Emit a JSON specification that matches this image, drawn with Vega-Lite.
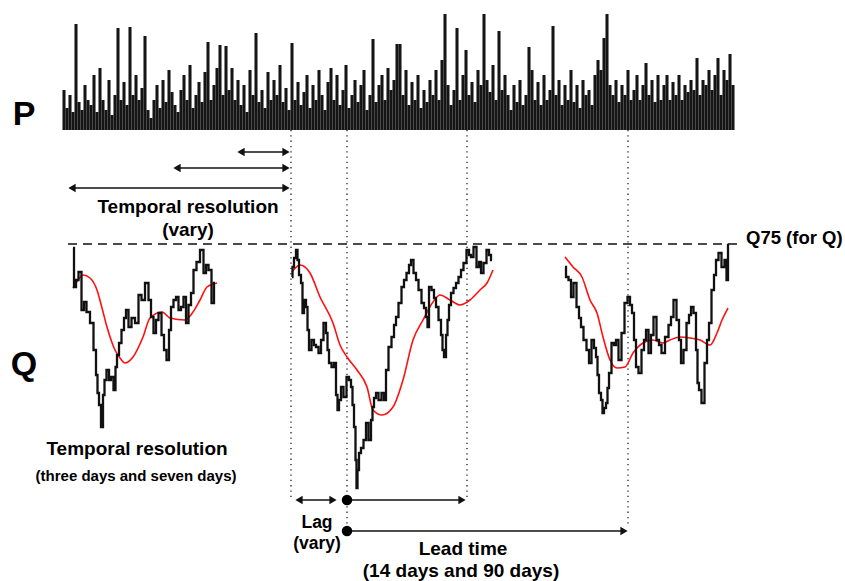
{
  "$schema": "https://vega.github.io/schema/vega-lite/v6.json",
  "width": 845,
  "height": 581,
  "autosize": {"type": "fit", "contains": "padding"},
  "padding": 0,
  "background": "white",
  "config": {"view": {"stroke": null}, "text": {"font": "Liberation Sans", "fontWeight": "bold", "color": "black"}},
  "resolve": {"scale": {"x": "independent", "y": "independent", "shape": "independent"}},
  "datasets": {
    "precip": [
      {"t":0,"p":40},{"t":1,"p":22},{"t":2,"p":35},{"t":3,"p":18},{"t":4,"p":106},{"t":5,"p":28},{"t":6,"p":20},{"t":7,"p":45},{"t":8,"p":30},{"t":9,"p":25},
      {"t":10,"p":55},{"t":11,"p":18},{"t":12,"p":62},{"t":13,"p":30},{"t":14,"p":20},{"t":15,"p":50},{"t":16,"p":15},{"t":17,"p":35},{"t":18,"p":102},{"t":19,"p":30},
      {"t":20,"p":48},{"t":21,"p":25},{"t":22,"p":103},{"t":23,"p":35},{"t":24,"p":55},{"t":25,"p":30},{"t":26,"p":42},{"t":27,"p":94},{"t":28,"p":20},{"t":29,"p":12},
      {"t":30,"p":30},{"t":31,"p":45},{"t":32,"p":22},{"t":33,"p":50},{"t":34,"p":28},{"t":35,"p":60},{"t":36,"p":38},{"t":37,"p":25},{"t":38,"p":18},{"t":39,"p":40},
      {"t":40,"p":55},{"t":41,"p":30},{"t":42,"p":65},{"t":43,"p":22},{"t":44,"p":35},{"t":45,"p":48},{"t":46,"p":28},{"t":47,"p":58},{"t":48,"p":88},{"t":49,"p":30},
      {"t":50,"p":45},{"t":51,"p":62},{"t":52,"p":85},{"t":53,"p":35},{"t":54,"p":84},{"t":55,"p":40},{"t":56,"p":62},{"t":57,"p":30},{"t":58,"p":50},{"t":59,"p":25},
      {"t":60,"p":45},{"t":61,"p":18},{"t":62,"p":60},{"t":63,"p":35},{"t":64,"p":97},{"t":65,"p":28},{"t":66,"p":40},{"t":67,"p":22},{"t":68,"p":58},{"t":69,"p":30},
      {"t":70,"p":50},{"t":71,"p":35},{"t":72,"p":65},{"t":73,"p":28},{"t":74,"p":42},{"t":75,"p":20},{"t":76,"p":87},{"t":77,"p":30},{"t":78,"p":48},{"t":79,"p":25},
      {"t":80,"p":38},{"t":81,"p":55},{"t":82,"p":22},{"t":83,"p":45},{"t":84,"p":30},{"t":85,"p":60},{"t":86,"p":35},{"t":87,"p":20},{"t":88,"p":48},{"t":89,"p":62},
      {"t":90,"p":30},{"t":91,"p":55},{"t":92,"p":25},{"t":93,"p":40},{"t":94,"p":65},{"t":95,"p":22},{"t":96,"p":35},{"t":97,"p":50},{"t":98,"p":28},{"t":99,"p":45},
      {"t":100,"p":60},{"t":101,"p":20},{"t":102,"p":35},{"t":103,"p":91},{"t":104,"p":28},{"t":105,"p":45},{"t":106,"p":55},{"t":107,"p":30},{"t":108,"p":62},{"t":109,"p":40},
      {"t":110,"p":50},{"t":111,"p":86},{"t":112,"p":86},{"t":113,"p":35},{"t":114,"p":60},{"t":115,"p":25},{"t":116,"p":48},{"t":117,"p":30},{"t":118,"p":55},{"t":119,"p":22},
      {"t":120,"p":40},{"t":121,"p":28},{"t":122,"p":50},{"t":123,"p":35},{"t":124,"p":60},{"t":125,"p":30},{"t":126,"p":70},{"t":127,"p":116},{"t":128,"p":45},{"t":129,"p":25},
      {"t":130,"p":40},{"t":131,"p":102},{"t":132,"p":30},{"t":133,"p":55},{"t":134,"p":80},{"t":135,"p":35},{"t":136,"p":48},{"t":137,"p":28},{"t":138,"p":60},{"t":139,"p":45},
      {"t":140,"p":116},{"t":141,"p":50},{"t":142,"p":38},{"t":143,"p":65},{"t":144,"p":30},{"t":145,"p":99},{"t":146,"p":40},{"t":147,"p":55},{"t":148,"p":35},{"t":149,"p":20},
      {"t":150,"p":45},{"t":151,"p":28},{"t":152,"p":50},{"t":153,"p":25},{"t":154,"p":35},{"t":155,"p":83},{"t":156,"p":60},{"t":157,"p":30},{"t":158,"p":48},{"t":159,"p":25},
      {"t":160,"p":55},{"t":161,"p":30},{"t":162,"p":40},{"t":163,"p":104},{"t":164,"p":35},{"t":165,"p":50},{"t":166,"p":25},{"t":167,"p":45},{"t":168,"p":30},{"t":169,"p":60},
      {"t":170,"p":28},{"t":171,"p":45},{"t":172,"p":22},{"t":173,"p":50},{"t":174,"p":35},{"t":175,"p":40},{"t":176,"p":25},{"t":177,"p":55},{"t":178,"p":70},{"t":179,"p":60},
      {"t":180,"p":92},{"t":181,"p":116},{"t":182,"p":45},{"t":183,"p":35},{"t":184,"p":50},{"t":185,"p":28},{"t":186,"p":45},{"t":187,"p":35},{"t":188,"p":60},{"t":189,"p":30},
      {"t":190,"p":40},{"t":191,"p":55},{"t":192,"p":30},{"t":193,"p":45},{"t":194,"p":67},{"t":195,"p":35},{"t":196,"p":50},{"t":197,"p":28},{"t":198,"p":55},{"t":199,"p":30},
      {"t":200,"p":45},{"t":201,"p":55},{"t":202,"p":30},{"t":203,"p":48},{"t":204,"p":35},{"t":205,"p":55},{"t":206,"p":30},{"t":207,"p":45},{"t":208,"p":38},{"t":209,"p":50},
      {"t":210,"p":40},{"t":211,"p":72},{"t":212,"p":35},{"t":213,"p":50},{"t":214,"p":45},{"t":215,"p":60},{"t":216,"p":40},{"t":217,"p":55},{"t":218,"p":72},{"t":219,"p":35},
      {"t":220,"p":60},{"t":221,"p":50},{"t":222,"p":76},{"t":223,"p":45}
    ],
    "qobs": [
      {"seg":1,"x":73,"y":248},{"seg":1,"x":75,"y":287},{"seg":1,"x":77,"y":280},{"seg":1,"x":80,"y":272},{"seg":1,"x":83,"y":310},{"seg":1,"x":85,"y":302},{"seg":1,"x":88,"y":312},{"seg":1,"x":92,"y":323},{"seg":1,"x":95,"y":350},{"seg":1,"x":97,"y":375},{"seg":1,"x":98,"y":393},{"seg":1,"x":100,"y":405},{"seg":1,"x":102,"y":427},{"seg":1,"x":104,"y":395},{"seg":1,"x":105,"y":380},{"seg":1,"x":108,"y":370},{"seg":1,"x":110,"y":380},{"seg":1,"x":112,"y":377},{"seg":1,"x":115,"y":390},{"seg":1,"x":116,"y":367},{"seg":1,"x":118,"y":355},{"seg":1,"x":120,"y":343},{"seg":1,"x":123,"y":330},{"seg":1,"x":125,"y":318},{"seg":1,"x":127,"y":310},{"seg":1,"x":130,"y":327},{"seg":1,"x":133,"y":318},{"seg":1,"x":137,"y":323},{"seg":1,"x":140,"y":295},{"seg":1,"x":143,"y":300},{"seg":1,"x":147,"y":283},{"seg":1,"x":150,"y":300},{"seg":1,"x":152,"y":317},{"seg":1,"x":155,"y":333},{"seg":1,"x":157,"y":320},{"seg":1,"x":160,"y":313},{"seg":1,"x":163,"y":335},{"seg":1,"x":165,"y":350},{"seg":1,"x":168,"y":360},{"seg":1,"x":170,"y":330},{"seg":1,"x":172,"y":307},{"seg":1,"x":175,"y":300},{"seg":1,"x":177,"y":297},{"seg":1,"x":180,"y":310},{"seg":1,"x":182,"y":307},{"seg":1,"x":185,"y":297},{"seg":1,"x":187,"y":323},{"seg":1,"x":190,"y":305},{"seg":1,"x":192,"y":293},{"seg":1,"x":195,"y":270},{"seg":1,"x":198,"y":262},{"seg":1,"x":202,"y":250},{"seg":1,"x":205,"y":273},{"seg":1,"x":207,"y":265},{"seg":1,"x":210,"y":270},{"seg":1,"x":213,"y":303},{"seg":1,"x":215,"y":283},
      {"seg":2,"x":292,"y":277},{"seg":2,"x":293,"y":267},{"seg":2,"x":295,"y":258},{"seg":2,"x":297,"y":250},{"seg":2,"x":298,"y":260},{"seg":2,"x":300,"y":275},{"seg":2,"x":302,"y":283},{"seg":2,"x":303,"y":313},{"seg":2,"x":305,"y":300},{"seg":2,"x":307,"y":307},{"seg":2,"x":308,"y":330},{"seg":2,"x":310,"y":350},{"seg":2,"x":313,"y":340},{"seg":2,"x":315,"y":345},{"seg":2,"x":317,"y":347},{"seg":2,"x":320,"y":353},{"seg":2,"x":322,"y":340},{"seg":2,"x":325,"y":323},{"seg":2,"x":327,"y":333},{"seg":2,"x":328,"y":350},{"seg":2,"x":330,"y":363},{"seg":2,"x":333,"y":367},{"seg":2,"x":335,"y":363},{"seg":2,"x":337,"y":395},{"seg":2,"x":338,"y":410},{"seg":2,"x":340,"y":400},{"seg":2,"x":342,"y":387},{"seg":2,"x":345,"y":397},{"seg":2,"x":348,"y":377},{"seg":2,"x":350,"y":380},{"seg":2,"x":352,"y":387},{"seg":2,"x":353,"y":405},{"seg":2,"x":355,"y":427},{"seg":2,"x":356,"y":460},{"seg":2,"x":357,"y":488},{"seg":2,"x":358,"y":470},{"seg":2,"x":360,"y":453},{"seg":2,"x":362,"y":448},{"seg":2,"x":365,"y":440},{"seg":2,"x":367,"y":423},{"seg":2,"x":370,"y":440},{"seg":2,"x":372,"y":420},{"seg":2,"x":373,"y":407},{"seg":2,"x":375,"y":398},{"seg":2,"x":377,"y":393},{"seg":2,"x":380,"y":400},{"seg":2,"x":383,"y":393},{"seg":2,"x":385,"y":400},{"seg":2,"x":387,"y":370},{"seg":2,"x":390,"y":347},{"seg":2,"x":393,"y":337},{"seg":2,"x":395,"y":325},{"seg":2,"x":397,"y":317},{"seg":2,"x":400,"y":303},{"seg":2,"x":403,"y":287},{"seg":2,"x":405,"y":280},{"seg":2,"x":408,"y":273},{"seg":2,"x":410,"y":265},{"seg":2,"x":412,"y":260},{"seg":2,"x":415,"y":273},{"seg":2,"x":417,"y":280},{"seg":2,"x":420,"y":290},{"seg":2,"x":423,"y":303},{"seg":2,"x":425,"y":308},{"seg":2,"x":427,"y":317},{"seg":2,"x":428,"y":327},{"seg":2,"x":430,"y":287},{"seg":2,"x":433,"y":290},{"seg":2,"x":435,"y":298},{"seg":2,"x":437,"y":307},{"seg":2,"x":440,"y":320},{"seg":2,"x":442,"y":335},{"seg":2,"x":443,"y":350},{"seg":2,"x":445,"y":357},{"seg":2,"x":447,"y":335},{"seg":2,"x":448,"y":320},{"seg":2,"x":450,"y":305},{"seg":2,"x":452,"y":293},{"seg":2,"x":455,"y":288},{"seg":2,"x":457,"y":283},{"seg":2,"x":460,"y":277},{"seg":2,"x":462,"y":270},{"seg":2,"x":465,"y":263},{"seg":2,"x":468,"y":250},{"seg":2,"x":470,"y":255},{"seg":2,"x":472,"y":257},{"seg":2,"x":475,"y":247},{"seg":2,"x":478,"y":267},{"seg":2,"x":480,"y":262},{"seg":2,"x":482,"y":273},{"seg":2,"x":485,"y":263},{"seg":2,"x":488,"y":250},{"seg":2,"x":490,"y":255},{"seg":2,"x":492,"y":260},
      {"seg":3,"x":565,"y":267},{"seg":3,"x":567,"y":277},{"seg":3,"x":570,"y":280},{"seg":3,"x":572,"y":297},{"seg":3,"x":575,"y":283},{"seg":3,"x":578,"y":307},{"seg":3,"x":580,"y":318},{"seg":3,"x":582,"y":327},{"seg":3,"x":585,"y":340},{"seg":3,"x":588,"y":350},{"seg":3,"x":590,"y":363},{"seg":3,"x":593,"y":340},{"seg":3,"x":595,"y":348},{"seg":3,"x":597,"y":357},{"seg":3,"x":598,"y":375},{"seg":3,"x":600,"y":393},{"seg":3,"x":602,"y":400},{"seg":3,"x":603,"y":413},{"seg":3,"x":605,"y":408},{"seg":3,"x":607,"y":403},{"seg":3,"x":608,"y":388},{"seg":3,"x":610,"y":373},{"seg":3,"x":613,"y":343},{"seg":3,"x":615,"y":345},{"seg":3,"x":617,"y":340},{"seg":3,"x":620,"y":360},{"seg":3,"x":623,"y":333},{"seg":3,"x":626,"y":303},{"seg":3,"x":629,"y":297},{"seg":3,"x":631,"y":305},{"seg":3,"x":633,"y":313},{"seg":3,"x":635,"y":340},{"seg":3,"x":637,"y":367},{"seg":3,"x":640,"y":373},{"seg":3,"x":643,"y":350},{"seg":3,"x":645,"y":340},{"seg":3,"x":647,"y":330},{"seg":3,"x":650,"y":353},{"seg":3,"x":652,"y":335},{"seg":3,"x":655,"y":317},{"seg":3,"x":658,"y":340},{"seg":3,"x":660,"y":345},{"seg":3,"x":663,"y":353},{"seg":3,"x":667,"y":337},{"seg":3,"x":670,"y":325},{"seg":3,"x":672,"y":317},{"seg":3,"x":675,"y":300},{"seg":3,"x":678,"y":320},{"seg":3,"x":680,"y":340},{"seg":3,"x":682,"y":363},{"seg":3,"x":685,"y":350},{"seg":3,"x":688,"y":323},{"seg":3,"x":690,"y":315},{"seg":3,"x":692,"y":307},{"seg":3,"x":695,"y":313},{"seg":3,"x":697,"y":350},{"seg":3,"x":698,"y":383},{"seg":3,"x":700,"y":390},{"seg":3,"x":703,"y":403},{"seg":3,"x":706,"y":363},{"seg":3,"x":708,"y":340},{"seg":3,"x":710,"y":323},{"seg":3,"x":713,"y":290},{"seg":3,"x":715,"y":275},{"seg":3,"x":717,"y":260},{"seg":3,"x":720,"y":253},{"seg":3,"x":723,"y":267},{"seg":3,"x":726,"y":260},{"seg":3,"x":727,"y":280},{"seg":3,"x":729,"y":245}
    ],
    "qsmooth": [
      {"seg":1,"x":73,"y":288},{"seg":1,"x":78,"y":280},{"seg":1,"x":83,"y":275},{"seg":1,"x":90,"y":278},{"seg":1,"x":97,"y":290},{"seg":1,"x":102,"y":308},{"seg":1,"x":107,"y":327},{"seg":1,"x":115,"y":350},{"seg":1,"x":120,"y":358},{"seg":1,"x":125,"y":363},{"seg":1,"x":133,"y":357},{"seg":1,"x":143,"y":337},{"seg":1,"x":150,"y":318},{"seg":1,"x":162,"y":312},{"seg":1,"x":170,"y":318},{"seg":1,"x":185,"y":320},{"seg":1,"x":193,"y":312},{"seg":1,"x":200,"y":300},{"seg":1,"x":207,"y":287},{"seg":1,"x":217,"y":283},
      {"seg":2,"x":292,"y":272},{"seg":2,"x":300,"y":265},{"seg":2,"x":310,"y":273},{"seg":2,"x":320,"y":297},{"seg":2,"x":333,"y":323},{"seg":2,"x":340,"y":345},{"seg":2,"x":347,"y":357},{"seg":2,"x":357,"y":370},{"seg":2,"x":367,"y":387},{"seg":2,"x":373,"y":410},{"seg":2,"x":382,"y":415},{"seg":2,"x":393,"y":407},{"seg":2,"x":403,"y":380},{"seg":2,"x":413,"y":340},{"seg":2,"x":423,"y":320},{"seg":2,"x":433,"y":302},{"seg":2,"x":440,"y":295},{"seg":2,"x":450,"y":300},{"seg":2,"x":460,"y":305},{"seg":2,"x":470,"y":300},{"seg":2,"x":480,"y":290},{"seg":2,"x":487,"y":283},{"seg":2,"x":493,"y":270},
      {"seg":3,"x":565,"y":257},{"seg":3,"x":573,"y":267},{"seg":3,"x":582,"y":277},{"seg":3,"x":590,"y":300},{"seg":3,"x":597,"y":313},{"seg":3,"x":603,"y":337},{"seg":3,"x":610,"y":360},{"seg":3,"x":617,"y":368},{"seg":3,"x":625,"y":367},{"seg":3,"x":633,"y":353},{"seg":3,"x":643,"y":343},{"seg":3,"x":653,"y":340},{"seg":3,"x":663,"y":343},{"seg":3,"x":670,"y":340},{"seg":3,"x":680,"y":337},{"seg":3,"x":690,"y":338},{"seg":3,"x":700,"y":340},{"seg":3,"x":710,"y":345},{"seg":3,"x":717,"y":333},{"seg":3,"x":722,"y":320},{"seg":3,"x":728,"y":308}
    ]
  },
  "layer": [
    {
      "data": {"name": "precip"},
      "mark": {"type": "rule", "color": "#151515", "strokeWidth": 3.05},
      "encoding": {
        "x": {"field": "t", "type": "quantitative", "scale": {"domain": [-21.333, 260.333], "nice": false, "zero": false}, "axis": null},
        "y": {"field": "p", "type": "quantitative", "scale": {"domain": [-451, 130], "nice": false, "zero": false}, "axis": null},
        "y2": {"datum": 0}
      }
    },
    {
      "data": {"values": [{"x": 291, "y": 130, "y2": 500}, {"x": 347, "y": 130, "y2": 531}, {"x": 467, "y": 130, "y2": 500}, {"x": 628, "y": 130, "y2": 525}]},
      "mark": {"type": "rule", "color": "#222", "strokeWidth": 1.3, "strokeDash": [1.3, 4]},
      "encoding": {
        "x": {"field": "x", "type": "quantitative", "scale": {"domain": [0, 845], "nice": false, "zero": false}, "axis": null},
        "y": {"field": "y", "type": "quantitative", "scale": {"domain": [0, 581], "reverse": true, "nice": false, "zero": false}, "axis": null},
        "y2": {"field": "y2"}
      }
    },
    {
      "data": {"values": [{"x": 68, "x2": 742, "y": 244}]},
      "mark": {"type": "rule", "color": "#111", "strokeWidth": 1.6, "strokeDash": [9, 6]},
      "encoding": {
        "x": {"field": "x", "type": "quantitative", "scale": {"domain": [0, 845], "nice": false, "zero": false}, "axis": null},
        "x2": {"field": "x2"},
        "y": {"field": "y", "type": "quantitative", "scale": {"domain": [0, 581], "reverse": true, "nice": false, "zero": false}, "axis": null}
      }
    },
    {
      "data": {"values": [
        {"x": 239, "x2": 288, "y": 152}, {"x": 175, "x2": 288, "y": 168}, {"x": 70, "x2": 288, "y": 188},
        {"x": 297, "x2": 335, "y": 500}, {"x": 347, "x2": 463, "y": 500}, {"x": 347, "x2": 626, "y": 531}
      ]},
      "mark": {"type": "rule", "color": "#111", "strokeWidth": 1.6},
      "encoding": {
        "x": {"field": "x", "type": "quantitative", "scale": {"domain": [0, 845], "nice": false, "zero": false}, "axis": null},
        "x2": {"field": "x2"},
        "y": {"field": "y", "type": "quantitative", "scale": {"domain": [0, 581], "reverse": true, "nice": false, "zero": false}, "axis": null}
      }
    },
    {
      "data": {"values": [
        {"x": 286, "y": 152, "dir": "R"}, {"x": 241, "y": 152, "dir": "L"},
        {"x": 286, "y": 168, "dir": "R"}, {"x": 177, "y": 168, "dir": "L"},
        {"x": 286, "y": 188, "dir": "R"}, {"x": 72, "y": 188, "dir": "L"},
        {"x": 299, "y": 500, "dir": "L"}, {"x": 333, "y": 500, "dir": "R"},
        {"x": 462, "y": 500, "dir": "R"}, {"x": 624, "y": 531, "dir": "R"}
      ]},
      "mark": {"type": "point", "filled": true, "color": "#111", "size": 70, "opacity": 1},
      "encoding": {
        "x": {"field": "x", "type": "quantitative", "scale": {"domain": [0, 845], "nice": false, "zero": false}, "axis": null},
        "y": {"field": "y", "type": "quantitative", "scale": {"domain": [0, 581], "reverse": true, "nice": false, "zero": false}, "axis": null},
        "shape": {"field": "dir", "type": "nominal", "scale": {"domain": ["L", "R"], "range": ["triangle-left", "triangle-right"]}, "legend": null}
      }
    },
    {
      "data": {"values": [{"x": 347, "y": 500}, {"x": 347, "y": 531}]},
      "mark": {"type": "point", "filled": true, "color": "black", "size": 110, "shape": "circle", "opacity": 1},
      "encoding": {
        "x": {"field": "x", "type": "quantitative", "scale": {"domain": [0, 845], "nice": false, "zero": false}, "axis": null},
        "y": {"field": "y", "type": "quantitative", "scale": {"domain": [0, 581], "reverse": true, "nice": false, "zero": false}, "axis": null}
      }
    },
    {
      "data": {"name": "qsmooth"},
      "mark": {"type": "line", "color": "#ff1010", "strokeWidth": 1.6, "interpolate": "monotone"},
      "encoding": {
        "x": {"field": "x", "type": "quantitative", "scale": {"domain": [0, 845], "nice": false, "zero": false}, "axis": null},
        "y": {"field": "y", "type": "quantitative", "scale": {"domain": [0, 581], "reverse": true, "nice": false, "zero": false}, "axis": null},
        "detail": {"field": "seg", "type": "nominal"}
      }
    },
    {
      "data": {"name": "qobs"},
      "mark": {"type": "line", "color": "#111", "strokeWidth": 2.3, "interpolate": "step"},
      "encoding": {
        "x": {"field": "x", "type": "quantitative", "scale": {"domain": [0, 845], "nice": false, "zero": false}, "axis": null},
        "y": {"field": "y", "type": "quantitative", "scale": {"domain": [0, 581], "reverse": true, "nice": false, "zero": false}, "axis": null},
        "detail": {"field": "seg", "type": "nominal"}
      }
    },
    {
      "data": {"values": [{"x": 24, "y": 125, "label": "P"}, {"x": 24, "y": 375, "label": "Q"}]},
      "mark": {"type": "text", "fontSize": 34, "align": "center", "baseline": "alphabetic"},
      "encoding": {
        "x": {"field": "x", "type": "quantitative", "scale": {"domain": [0, 845], "nice": false, "zero": false}, "axis": null},
        "y": {"field": "y", "type": "quantitative", "scale": {"domain": [0, 581], "reverse": true, "nice": false, "zero": false}, "axis": null},
        "text": {"field": "label"}
      }
    },
    {
      "data": {"values": [
        {"x": 188, "y": 213, "label": "Temporal resolution"},
        {"x": 188, "y": 236, "label": "(vary)"},
        {"x": 137, "y": 455, "label": "Temporal resolution"},
        {"x": 463, "y": 555, "label": "Lead time"},
        {"x": 461, "y": 577, "label": "(14 days and 90 days)"}
      ]},
      "mark": {"type": "text", "fontSize": 19, "align": "center", "baseline": "alphabetic"},
      "encoding": {
        "x": {"field": "x", "type": "quantitative", "scale": {"domain": [0, 845], "nice": false, "zero": false}, "axis": null},
        "y": {"field": "y", "type": "quantitative", "scale": {"domain": [0, 581], "reverse": true, "nice": false, "zero": false}, "axis": null},
        "text": {"field": "label"}
      }
    },
    {
      "data": {"values": [{"x": 317, "y": 528, "label": "Lag"}, {"x": 317, "y": 549, "label": "(vary)"}]},
      "mark": {"type": "text", "fontSize": 17.5, "align": "center", "baseline": "alphabetic"},
      "encoding": {
        "x": {"field": "x", "type": "quantitative", "scale": {"domain": [0, 845], "nice": false, "zero": false}, "axis": null},
        "y": {"field": "y", "type": "quantitative", "scale": {"domain": [0, 581], "reverse": true, "nice": false, "zero": false}, "axis": null},
        "text": {"field": "label"}
      }
    },
    {
      "data": {"values": [{"x": 136, "y": 481, "label": "(three days and seven days)"}]},
      "mark": {"type": "text", "fontSize": 15, "align": "center", "baseline": "alphabetic"},
      "encoding": {
        "x": {"field": "x", "type": "quantitative", "scale": {"domain": [0, 845], "nice": false, "zero": false}, "axis": null},
        "y": {"field": "y", "type": "quantitative", "scale": {"domain": [0, 581], "reverse": true, "nice": false, "zero": false}, "axis": null},
        "text": {"field": "label"}
      }
    },
    {
      "data": {"values": [{"x": 746, "y": 244, "label": "Q75 (for Q)"}]},
      "mark": {"type": "text", "fontSize": 18.5, "align": "left", "baseline": "alphabetic"},
      "encoding": {
        "x": {"field": "x", "type": "quantitative", "scale": {"domain": [0, 845], "nice": false, "zero": false}, "axis": null},
        "y": {"field": "y", "type": "quantitative", "scale": {"domain": [0, 581], "reverse": true, "nice": false, "zero": false}, "axis": null},
        "text": {"field": "label"}
      }
    }
  ]
}
